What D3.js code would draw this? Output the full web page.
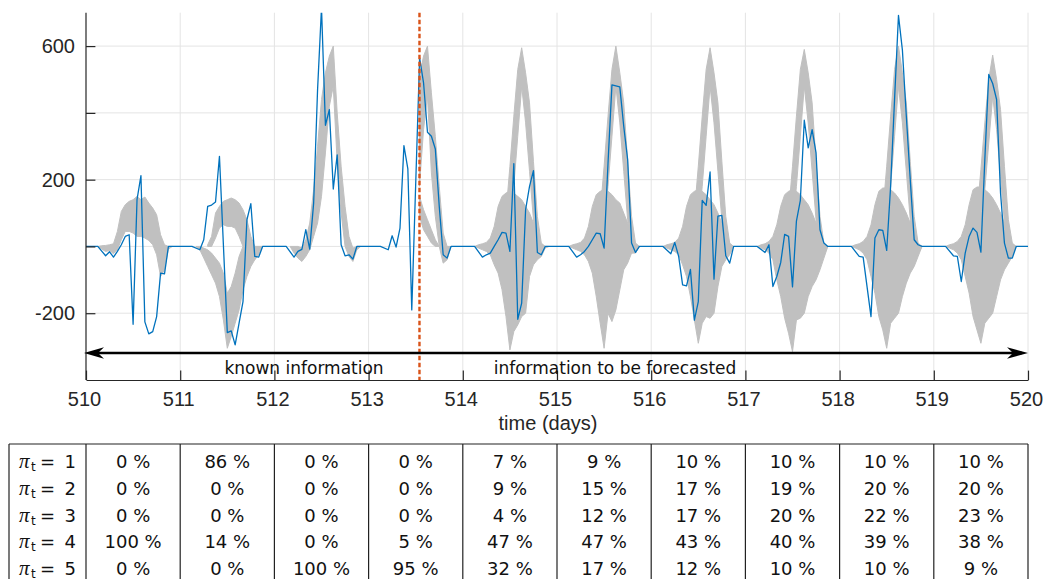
<!DOCTYPE html>
<html><head><meta charset="utf-8">
<script src="https://cdn.jsdelivr.net/npm/d3@7"></script>
<style>body{margin:0;background:#fff}svg{display:block}</style>
</head><body>
<svg id="c" width="1044" height="579"></svg>
<script>
// ---------------- data ----------------
const dayTicks = [510,511,512,513,514,515,516,517,518,519,520];
const yTicks = [-200,0,200,400,600];
const yLabelled = [600,200,-200];
const forecastStart = 513.54;          // days
const xLabel = "time (days)";
const knownText = "known information";
const forecastText = "information to be forecasted";

// observed series (hours after day 510, value)
const blueHours = [0,3,4,5,6,7,8,9,10,11,12,13,14,15,16,17,18,19,20,21,
 27,29,30,31,32,33,34,36,37,38,39,40,41,42,43,44,45,
 51,53,54,55,56,57,58,59,60,61,62,63,64,65,66,67,68,69,
 75,77,78,79,80,81,82,83,85,86,87,88,89,90,91,92,93,
 99,101,102,103,104,105,106,107,108,109,110,111,112,113,114,115,116,117,
 123,125,126,127,128,129,130,131,132,133,134,136,137,138,139,140,141,
 147,149,150,151,152,153,154,155,156,157,158,159,160,161,162,163,164,165,
 171,173,174,175,176,177,178,179,180,181,182,183,184,185,186,187,188,189,
 195,197,198,200,201,202,203,204,205,206,207,208,209,210,211,212,213,
 219,221,222,223,224,225,226,227,228,229,230,231,232,233,234,235,236,237,240];
const blueValues = [0,0,-14,-28,-16,-32,-15,5,30,35,-233,140,212,-226,-262,-255,-210,-80,-82,0,
 0,-10,20,120,124,133,270,-258,-253,-295,-230,-165,80,128,-30,-32,0,
 0,-32,-15,-9,50,-8,130,470,715,363,410,172,274,5,-28,-25,-38,0,
 0,-10,32,-2,55,302,232,-190,565,490,342,330,292,120,-25,-35,0,
 0,-32,-25,-20,0,20,42,40,-15,248,-218,-170,110,180,227,-18,-25,0,
 0,-32,-25,-15,0,20,40,38,-5,250,484,478,360,260,10,-18,0,
 0,-22,12,-30,-115,-118,-69,-221,-165,138,123,223,-98,91,93,-28,-50,0,
 0,-18,5,-120,-90,-48,36,30,-121,76,138,378,295,350,280,50,10,0,
 0,-30,-32,-210,25,50,48,-12,180,440,692,588,390,200,20,5,0,
 0,-28,-30,-105,-20,30,55,42,-17,260,515,488,440,160,10,-35,-35,0,0];

// scenario envelopes: [hour, low, high]
const gray510 = [[3,0,0],[4,-8,2],[5,-15,3],[6,-12,5],[7,-22,8],[8,-10,45],[9,20,105],[10,45,125],[11,45,135],[12,40,140],[13,30,150],[14,30,140],[15,25,148],[16,18,130],[17,5,115],[18,-25,95],[19,-90,35],[20,-70,5],[21,-8,0],[22,0,0]];
const gray511Pos = [[31,0,5],[32,0,30],[33,25,100],[34,55,120],[35,65,135],[36,60,140],[37,60,145],[38,55,140],[39,30,130],[40,0,110],[41,-20,80],[42,-40,30],[43,-40,0],[44,-20,0],[45,0,0]];
const gray511Neg = [[28,0,0],[29,-10,0],[30,-35,-5],[31,-60,-10],[32,-85,-20],[33,-110,-35],[34,-150,-50],[35,-220,-80],[36,-305,-140],[37,-270,-120],[38,-230,-80],[39,-190,-30],[40,-130,0],[41,-90,10],[42,-60,0],[43,-40,0],[44,-25,0],[45,0,0]];
const gray512 = [[52,0,0],[53,-20,0],[54,-35,0],[55,-45,-5],[56,-30,20],[57,-10,70],[58,30,170],[59,70,300],[60,150,440],[61,280,520],[62,420,570],[63,480,600],[64,250,400],[65,100,240],[66,0,120],[67,-30,30],[68,-45,-5],[69,-10,0],[70,0,0]];
const gray513Peak = [[84.96,180,510],[86,350,570],[87,450,600],[88,220,460],[89,90,330],[90,0,180],[91,-50,40],[92,-40,0],[93,0,0]];
const gray513Thin = [[84.96,90,150],[86,50,110],[87,30,80],[88,10,50],[89,0,20],[90,0,0]];

const cloud514 = [[99,0,0],[100,-5,5],[101,-10,8],[102,-15,12],[103,-25,25],[104,-55,60],[105,-80,120],[106,-130,150],[107,-210,160],[108,-310,165],[109,-255,160],[110,-235,150],[111,-210,140],[112,-200,120],[113,-90,100],[114,-55,70],[115,-40,30],[116,-30,5],[117,-5,0],[118,0,0]];
const peak514 = [[106,0,20],[107,0,100],[108,60,240],[109,180,390],[110,330,530],[111,480,595],[112,370,520],[113,225,430],[114,80,255],[115,-20,90],[116,-20,10],[117,0,0]];
const cloud515 = [[123,0,0],[124,-5,5],[125,-10,8],[126,-15,12],[127,-25,25],[128,-45,60],[129,-80,120],[130,-150,155],[131,-230,165],[132,-305,170],[133,-200,165],[134,-225,155],[135,-190,140],[136,-130,130],[137,-70,100],[138,-50,70],[139,-20,30],[140,-15,5],[141,0,0]];
const peak515 = [[130,0,20],[131,0,100],[132,60,240],[133,180,390],[134,330,530],[135,480,600],[136,370,520],[137,225,430],[138,80,255],[139,-20,90],[140,-20,10],[141,0,0]];
const cloud516 = [[147,0,0],[148,-5,5],[149,-10,8],[150,-15,12],[151,-25,25],[152,-55,60],[153,-90,120],[154,-150,155],[155,-220,165],[156,-290,170],[157,-230,165],[158,-210,155],[159,-215,140],[160,-200,125],[161,-120,100],[162,-60,70],[163,-40,30],[164,-25,5],[165,0,0]];
const peak516 = [[154,0,20],[155,0,100],[156,60,240],[157,180,390],[158,330,530],[159,480,595],[160,370,520],[161,225,430],[162,80,255],[163,-20,90],[164,-20,10],[165,0,0]];
const cloud517 = [[171,0,0],[172,-5,5],[173,-10,8],[174,-20,15],[175,-40,30],[176,-100,65],[177,-150,120],[178,-215,155],[179,-260,165],[180,-315,170],[181,-220,165],[182,-215,155],[183,-200,140],[184,-150,125],[185,-120,100],[186,-100,70],[187,-70,30],[188,-35,5],[189,0,0]];
const peak517 = [[178,0,20],[179,0,100],[180,60,240],[181,180,390],[182,330,530],[183,480,590],[184,370,520],[185,225,430],[186,80,255],[187,-20,90],[188,-20,10],[189,0,0]];
const cloud518 = [[195,0,0],[196,-5,5],[197,-10,8],[198,-20,15],[199,-40,30],[200,-90,65],[201,-140,125],[202,-210,165],[203,-250,175],[204,-305,175],[205,-230,170],[206,-215,160],[207,-200,145],[208,-150,125],[209,-110,100],[210,-80,70],[211,-60,30],[212,-30,5],[213,0,0]];
const peak518 = [[202,0,20],[203,0,100],[204,60,240],[205,180,390],[206,330,530],[207,480,600],[208,370,520],[209,225,430],[210,80,255],[211,-20,90],[212,-20,10],[213,0,0]];
const cloud519 = [[219,0,0],[220,-5,5],[221,-10,8],[222,-20,15],[223,-40,30],[224,-90,65],[225,-140,125],[226,-210,170],[227,-250,178],[228,-290,178],[229,-230,170],[230,-215,160],[231,-200,145],[232,-150,125],[233,-100,100],[234,-70,70],[235,-50,30],[236,-30,5],[237,0,0]];
const peak519 = [[226,0,20],[227,0,100],[228,60,230],[229,170,370],[230,310,500],[231,450,573],[232,350,500],[233,210,410],[234,70,240],[235,-20,80],[236,-20,10],[237,0,0]];

const grayBands = [gray510, gray511Neg, gray511Pos, gray512, gray513Peak, gray513Thin,
  cloud514, peak514, cloud515, peak515, cloud516, peak516,
  cloud517, peak517, cloud518, peak518, cloud519, peak519];

// table
const rowLabels = ["1","2","3","4","5"];
const pi1 = [0,86,0,0,7,9,10,10,10,10];
const pi2 = [0,0,0,0,9,15,17,19,20,20];
const pi3 = [0,0,0,0,4,12,17,20,22,23];
const pi4 = [100,14,0,5,47,47,43,40,39,38];
const pi5 = [0,0,100,95,32,17,12,10,10,9];
const tableRows = [pi1,pi2,pi3,pi4,pi5];

// ---------------- drawing ----------------
const svg = d3.select("#c");
const L = 86, R = 1028, T = 12.7, B = 380;
const x = d3.scaleLinear().domain([510,520]).range([L,R]);
const y = d3.scaleLinear().domain([-400,700]).range([B,T]);
const hx = h => x(510 + h/24);

svg.append("defs").append("clipPath").attr("id","clip")
  .append("rect").attr("x",L).attr("y",T).attr("width",R-L).attr("height",B-T);

// grid
const grid = svg.append("g");
grid.selectAll("line.v").data(dayTicks.slice(1)).join("line")
  .attr("x1",d=>x(d)).attr("x2",d=>x(d)).attr("y1",T).attr("y2",B)
  .attr("stroke","#e4e4e4").attr("stroke-width",1);
grid.selectAll("line.h").data(yTicks).join("line")
  .attr("x1",L).attr("x2",R).attr("y1",d=>y(d)).attr("y2",d=>y(d))
  .attr("stroke","#e4e4e4").attr("stroke-width",1);

const plot = svg.append("g").attr("clip-path","url(#clip)");
const area = d3.area().x(d=>hx(d[0])).y0(d=>y(d[1])).y1(d=>y(d[2])).curve(d3.curveLinear);
plot.selectAll("path.g").data(grayBands).join("path")
  .attr("d",area).attr("fill","#c0c0c0").attr("stroke","#c0c0c0").attr("stroke-width",1);

const line = d3.line().x((d,i)=>hx(blueHours[i])).y(d=>y(d));
plot.append("path").datum(blueValues).attr("d",line)
  .attr("fill","none").attr("stroke","#0072BD").attr("stroke-width",1.3).attr("stroke-linejoin","round");

// axes
const fmt = d => yLabelled.includes(d) ? String(d) : "";
const ya = svg.append("g").attr("transform",`translate(${L},0)`)
  .call(d3.axisLeft(y).tickValues(yTicks).tickSize(-9.4).tickSizeOuter(0).tickPadding(11).tickFormat(fmt));
const xa = svg.append("g").attr("transform",`translate(0,${B})`)
  .call(d3.axisBottom(x).tickValues(dayTicks).tickSize(-9.4).tickSizeOuter(0).tickPadding(12).tickFormat(d3.format("d")));
[ya,xa].forEach(a=>{
  a.select(".domain").attr("stroke","#262626").attr("stroke-width",1.2);
  a.selectAll(".tick line").attr("stroke","#262626").attr("stroke-width",1.2);
  a.selectAll(".tick text").attr("fill","#262626").style("font-family","'Liberation Sans',Arial,sans-serif").style("font-size","20px");
});
xa.selectAll(".tick text").attr("dx","-2");
ya.select(".domain").attr("d",`M0,${T}V${B}`);

// forecast start marker
svg.append("line").attr("x1",x(forecastStart)).attr("x2",x(forecastStart)).attr("y1",T).attr("y2",B)
  .attr("stroke","#D95319").attr("stroke-width",2.4).attr("stroke-dasharray","4.5,2.5");

// double arrow
const ay = 353;
svg.append("line").attr("x1",L+6).attr("x2",R-6).attr("y1",ay).attr("y2",ay)
  .attr("stroke","#000").attr("stroke-width",2.6);
svg.append("path").attr("d",`M${L-2},${ay} L${L+18},${ay-5.8} L${L+12},${ay} L${L+18},${ay+5.8} Z`).attr("fill","#000");
svg.append("path").attr("d",`M${R},${ay} L${R-21},${ay-5.8} L${R-15},${ay} L${R-21},${ay+5.8} Z`).attr("fill","#000");
const annFont = "'DejaVu Sans',sans-serif";
svg.append("text").attr("x",304).attr("y",374).attr("text-anchor","middle")
  .style("font-family",annFont).style("font-size","17px").attr("fill","#111").text(knownText);
svg.append("text").attr("x",615).attr("y",374).attr("text-anchor","middle")
  .style("font-family",annFont).style("font-size","17px").attr("fill","#111").text(forecastText);

svg.append("text").attr("x",548).attr("y",430).attr("text-anchor","middle")
  .style("font-family","'Liberation Sans',Arial,sans-serif").style("font-size","20px").attr("fill","#262626").text(xLabel);

// table
const tb = svg.append("g");
const tTop = 444, tBottom = 590, rowY = [468,495,522,548,574.5];
const colX = [9].concat(dayTicks.map(d=>x(d)));
tb.append("line").attr("x1",9).attr("x2",R).attr("y1",tTop).attr("y2",tTop).attr("stroke","#222").attr("stroke-width",1.2);
tb.selectAll("line.c").data(colX).join("line")
  .attr("x1",d=>d).attr("x2",d=>d).attr("y1",tTop).attr("y2",tBottom)
  .attr("stroke","#222").attr("stroke-width",1.2);
const tf = "'DejaVu Sans',sans-serif";
rowLabels.forEach((lab,r)=>{
  const g = tb.append("g").attr("fill","#111");
  g.append("text").attr("x",19).attr("y",rowY[r]).style("font-family","'Liberation Serif',serif").style("font-style","italic").style("font-size","21px").text("π");
  g.append("text").attr("x",31).attr("y",rowY[r]+3).style("font-family",tf).style("font-size","12px").text("t");
  g.append("text").attr("x",40).attr("y",rowY[r]).style("font-family",tf).style("font-size","18px").text("=");
  g.append("text").attr("x",76).attr("y",rowY[r]).attr("text-anchor","end").style("font-family",tf).style("font-size","18px").text(lab);
  tableRows[r].forEach((v,c)=>{
    g.append("text").attr("x",(x(dayTicks[c])+x(dayTicks[c+1]))/2).attr("y",rowY[r]).attr("text-anchor","middle")
      .style("font-family",tf).style("font-size","18px").text(v+" %");
  });
});
</script>
</body></html>
